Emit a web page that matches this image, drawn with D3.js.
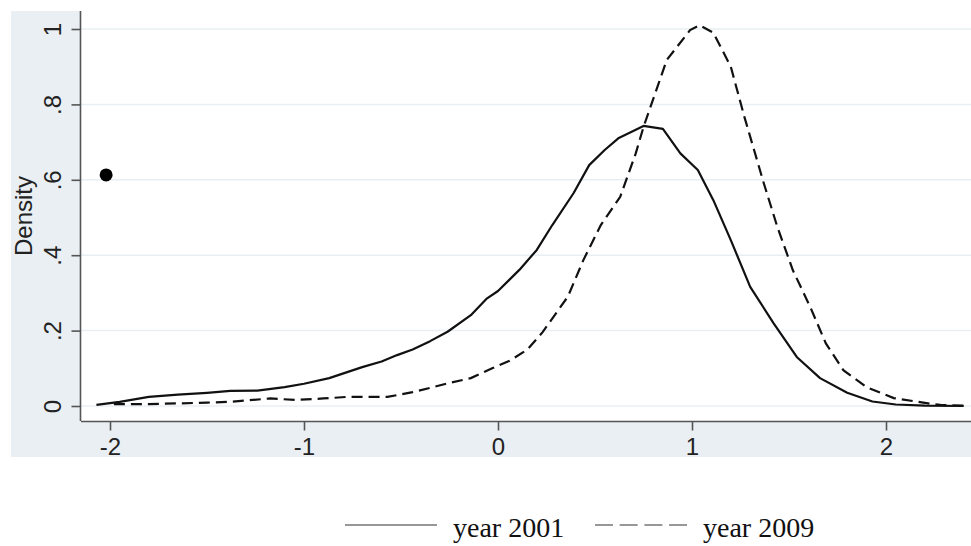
<!DOCTYPE html>
<html><head><meta charset="utf-8">
<script src="https://cdn.jsdelivr.net/npm/d3@7/dist/d3.min.js"></script>
<style>body{margin:0;background:#fff}svg{display:block}</style>
</head><body>
<svg id="chart" width="971" height="546"></svg>
<script>
const xTicks = [-2, -1, 0, 1, 2];
const yTicks = [0, 0.2, 0.4, 0.6, 0.8, 1];
const yTickLabels = ["0", ".2", ".4", ".6", ".8", "1"];
const seriesNames = ["year 2001", "year 2009"];

const x2001 = [-2.07,-1.95,-1.8,-1.65,-1.5,-1.38,-1.24,-1.1,-1.0,-0.87,-0.7,-0.6,-0.52,-0.44,-0.35,-0.26,-0.14,-0.06,0.0,0.11,0.2,0.28,0.39,0.47,0.55,0.62,0.75,0.85,0.94,1.03,1.11,1.2,1.3,1.42,1.54,1.66,1.8,1.93,2.05,2.2,2.4];
const y2001 = [0.003,0.011,0.024,0.030,0.035,0.040,0.041,0.050,0.059,0.074,0.103,0.118,0.135,0.150,0.172,0.197,0.241,0.284,0.305,0.361,0.414,0.48,0.565,0.639,0.679,0.71,0.743,0.735,0.67,0.626,0.546,0.44,0.316,0.22,0.13,0.074,0.035,0.012,0.004,0.001,0.0];

const x2009 = [-1.98,-1.81,-1.64,-1.5,-1.38,-1.175,-1.04,-0.9,-0.78,-0.57,-0.44,-0.35,-0.26,-0.14,-0.03,0.06,0.15,0.23,0.36,0.44,0.53,0.63,0.71,0.75,0.87,0.99,1.04,1.11,1.2,1.27,1.32,1.37,1.44,1.52,1.61,1.69,1.78,1.9,2.04,2.23,2.28,2.4];
const y2009 = [0.005,0.005,0.007,0.009,0.011,0.020,0.016,0.020,0.024,0.024,0.037,0.048,0.06,0.074,0.10,0.12,0.149,0.196,0.29,0.387,0.48,0.555,0.67,0.74,0.918,0.997,1.01,0.99,0.90,0.767,0.679,0.591,0.475,0.36,0.262,0.166,0.095,0.05,0.021,0.006,0.003,0.001];

const dotX = [-2.02];
const dotY = [0.613];

const svg = d3.select("#chart");
const W = 971;
const bg = {x0: 11, y0: 11, x1: 971, y1: 457};
const plot = {x0: 81, y0: 11, x1: 971, y1: 421};

const x = d3.scaleLinear().domain([-2, 2]).range([110, 886]);
const y = d3.scaleLinear().domain([0, 1]).range([406, 29]);

svg.append("rect").attr("x", bg.x0).attr("y", bg.y0).attr("width", bg.x1 - bg.x0).attr("height", bg.y1 - bg.y0).attr("fill", "#e9eff3");
svg.append("rect").attr("x", plot.x0).attr("y", plot.y0).attr("width", plot.x1 - plot.x0).attr("height", plot.y1 - plot.y0).attr("fill", "#ffffff");

// grid lines
svg.append("g").selectAll("line").data(yTicks).join("line")
  .attr("x1", plot.x0).attr("x2", plot.x1)
  .attr("y1", d => y(d)).attr("y2", d => y(d))
  .attr("stroke", "#e8eff2").attr("stroke-width", 1.5);

// y axis
const yAxis = d3.axisLeft(y).tickValues(yTicks).tickFormat((d, i) => yTickLabels[i]).tickSize(9).tickSizeOuter(0);
const gy = svg.append("g").attr("transform", `translate(${plot.x0 - 0.5},0)`).call(yAxis);
gy.select(".domain").attr("d", `M0,${plot.y0}V${plot.y1}`).attr("stroke", "#555").attr("stroke-width", 1.6);
gy.selectAll(".tick line").attr("stroke", "#555").attr("stroke-width", 1.6);
gy.selectAll(".tick text").attr("transform", "rotate(-90)").attr("x", 0).attr("y", -20)
  .attr("dy", "0").attr("text-anchor", "middle")
  .style("font-family", "'Liberation Sans', Arial, sans-serif").style("font-size", "24px").attr("fill", "#222");

// x axis
const xAxis = d3.axisBottom(x).tickValues(xTicks).tickFormat(d3.format("d")).tickSize(9).tickSizeOuter(0);
const gx = svg.append("g").attr("transform", `translate(0,${plot.y1 + 0.5})`).call(xAxis);
gx.select(".domain").attr("d", `M${plot.x0},0H${plot.x1}`).attr("stroke", "#555").attr("stroke-width", 1.6);
gx.selectAll(".tick line").attr("stroke", "#555").attr("stroke-width", 1.6);
gx.selectAll(".tick text").attr("y", 33).attr("dy", "0")
  .style("font-family", "'Liberation Sans', Arial, sans-serif").style("font-size", "24px").attr("fill", "#222")
  .text(d => d < 0 ? "-" + Math.abs(d) : String(d));

// y title
svg.append("text").attr("transform", `translate(32,${(plot.y0 + plot.y1) / 2}) rotate(-90)`)
  .attr("text-anchor", "middle")
  .style("font-family", "'Liberation Sans', Arial, sans-serif").style("font-size", "24px").attr("fill", "#222")
  .text("Density");

const line = d3.line().x(d => x(d[0])).y(d => y(d[1]));
const d2001 = x2001.map((v, i) => [v, y2001[i]]);
const d2009 = x2009.map((v, i) => [v, y2009[i]]);

svg.append("path").datum(d2001).attr("d", line).attr("fill", "none").attr("stroke", "#111").attr("stroke-width", 2.2).attr("stroke-linejoin", "round");
svg.append("path").datum(d2009).attr("d", line).attr("fill", "none").attr("stroke", "#111").attr("stroke-width", 2.2).attr("stroke-dasharray", "11,6");

svg.selectAll("circle.dot").data(dotX.map((v, i) => [v, dotY[i]])).join("circle")
  .attr("class", "dot").attr("cx", d => x(d[0])).attr("cy", d => y(d[1])).attr("r", 6.5).attr("fill", "#000");

// legend
const legY = 525;
const leg = [
  {name: seriesNames[0], x0: 345, x1: 437, tx: 453, dash: null},
  {name: seriesNames[1], x0: 595, x1: 687, tx: 703, dash: "18,6.7"}
];
const lg = svg.append("g");
leg.forEach(l => {
  lg.append("line").attr("x1", l.x0).attr("x2", l.x1).attr("y1", legY).attr("y2", legY)
    .attr("stroke", "#333").attr("stroke-width", 1.1).attr("stroke-dasharray", l.dash);
  lg.append("text").attr("x", l.tx).attr("y", 537)
    .style("font-family", "'Liberation Serif', 'Times New Roman', serif").style("font-size", "28px").attr("fill", "#111")
    .text(l.name);
});
</script>
</body></html>
